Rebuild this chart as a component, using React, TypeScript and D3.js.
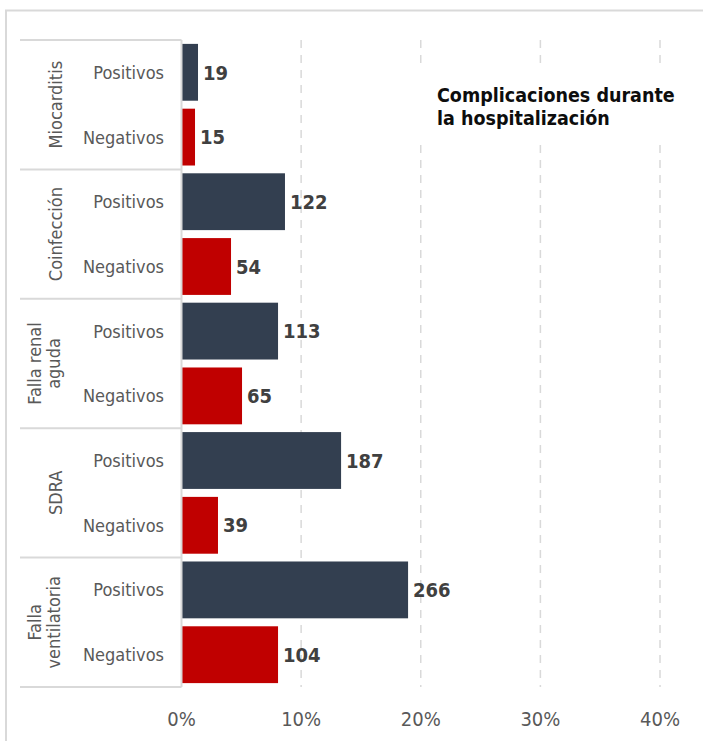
import React from "react";
import * as d3 from "d3";

const groups = ["Miocarditis", "Coinfección", "Falla renal aguda", "SDRA", "Falla ventilatoria"];
const groupLines = [["Miocarditis"], ["Coinfección"], ["Falla renal", "aguda"], ["SDRA"], ["Falla", "ventilatoria"]];
const series = ["Positivos", "Negativos"];
const positivosPct = [1.38, 8.65, 8.07, 13.34, 18.94];
const negativosPct = [1.13, 4.14, 5.06, 3.05, 8.07];
const positivosN = [19, 122, 113, 187, 266];
const negativosN = [15, 54, 65, 39, 104];
const xTicks = [0, 10, 20, 30, 40];
const titleLines = ["Complicaciones durante", "la hospitalización"];
const colors = { Positivos: "#333f50", Negativos: "#c00000" };

const FONT = "'DejaVu Sans Condensed', 'DejaVu Sans', sans-serif";

export default function App() {
  const W = 703, H = 741;
  const x = d3.scaleLinear().domain([0, 40]).range([181.5, 660]);
  const yG = d3.scaleBand<string>().domain(groups).range([40, 687]).padding(0);
  const yS = d3.scaleBand<string>().domain(series).range([0, yG.bandwidth()]).paddingInner(0.123).paddingOuter(0.06);
  const top = 40, bottom = 687;

  const rows = groups.flatMap((g, i) => [
    { g, s: "Positivos", pct: positivosPct[i], n: positivosN[i] },
    { g, s: "Negativos", pct: negativosPct[i], n: negativosN[i] },
  ]);

  return (
    <svg width={W} height={H} style={{ position: "absolute", left: 0, top: 0, fontFamily: FONT, fontStretch: "condensed" }}>
      <rect x={0} y={0} width={W} height={H} fill="#fff" />
      <rect x={6} y={10.5} width={W + 20} height={H + 20} fill="none" stroke="#d9d9d9" strokeWidth={2} />
      {/* gridlines */}
      {xTicks.filter((t) => t > 0).map((t) => (
        <line key={t} x1={x(t)} x2={x(t)} y1={top} y2={bottom} stroke="#d9d9d9" strokeWidth={1.5} strokeDasharray="8,7" />
      ))}
      {/* title box */}
      <rect x={412} y={70} width={285} height={73} fill="#fff" />
      {titleLines.map((t, i) => (
        <text key={t} x={437} y={102 + i * 23} fontSize={19.5} fontWeight="bold" fill="#0d0d0d">{t}</text>
      ))}
      {/* table lines */}
      {groups.map((g) => (
        <line key={g} x1={20} x2={181.5} y1={yG(g)!} y2={yG(g)!} stroke="#d9d9d9" strokeWidth={2} />
      ))}
      <line x1={20} x2={181.5} y1={bottom} y2={bottom} stroke="#d9d9d9" strokeWidth={2} />
      {/* bars */}
      {rows.map((r) => {
        const y0 = yG(r.g)! + yS(r.s)!;
        const bw = yS.bandwidth();
        return (
          <g key={r.g + r.s}>
            <rect x={x(0)} y={y0} width={x(r.pct) - x(0)} height={bw} fill={colors[r.s as keyof typeof colors]} />
            <text x={x(r.pct) + 5} y={y0 + bw / 2} dy="0.36em" fontSize={20} fontWeight="bold" fill="#404040">{r.n}</text>
            <text x={164} y={y0 + bw / 2} dy="0.36em" fontSize={18} textAnchor="end" fill="#595959">{r.s}</text>
          </g>
        );
      })}
      {/* axis line */}
      <line x1={x(0)} x2={x(0)} y1={top} y2={bottom} stroke="#d9d9d9" strokeWidth={2} />
      {/* category labels */}
      {groups.map((g, i) => {
        const cy = yG(g)! + yG.bandwidth() / 2;
        const lines = groupLines[i];
        const bases = lines.length === 1 ? [62] : [41, 60];
        return lines.map((l, j) => (
          <text key={g + j} transform={`translate(${bases[j]},${cy}) rotate(-90)`} textAnchor="middle" fontSize={18} fill="#595959">{l}</text>
        ));
      })}
      {/* x tick labels */}
      {xTicks.map((t) => (
        <text key={t} x={x(t)} y={726} textAnchor="middle" fontSize={20} fill="#595959">{`${t}%`}</text>
      ))}
    </svg>
  );
}
